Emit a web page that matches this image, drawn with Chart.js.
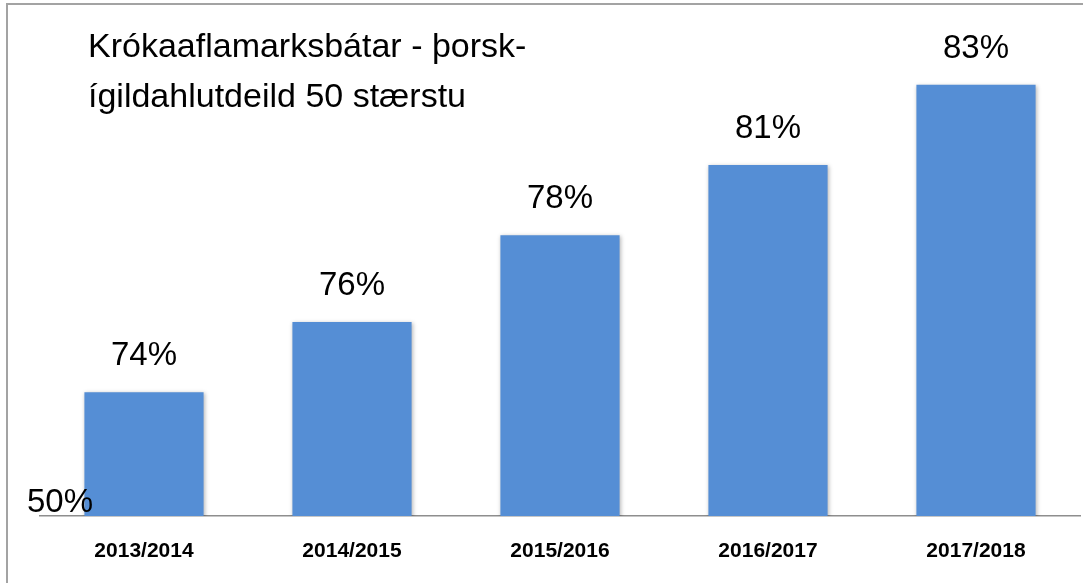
<!DOCTYPE html>
<html>
<head>
<meta charset="utf-8">
<script src="https://cdn.jsdelivr.net/npm/chart.js@4"></script>
<style>
  html, body { margin: 0; padding: 0; background: #fff; }
  #wrap { position: relative; width: 1083px; height: 583px; overflow: hidden; }
  #frame { position: absolute; left: 6px; top: 3px; right: -10px; bottom: -10px;
           border-left: 2px solid #a3a3a3; border-top: 2px solid #a3a3a3; pointer-events: none; }
  canvas { position: absolute; left: 0; top: 0; }
</style>
</head>
<body>
<div id="wrap">
  <canvas id="c" width="1083" height="583"></canvas>
  <div id="frame"></div>
</div>
<script>
// ---- data ----
const titleLines = ['Krókaaflamarksbátar - þorsk-', 'ígildahlutdeild 50 stærstu'];
const categories = ['2013/2014', '2014/2015', '2015/2016', '2016/2017', '2017/2018'];
const shareValues = [73.7, 75.8, 78.4, 80.5, 82.9];
const yTickLabels = ['50%'];
const yAxisMin = 70;
const yAxisMax = 84;

const FONT = '"Liberation Sans", Arial, Helvetica, sans-serif';

const shadowPlugin = {
  id: 'barShadow',
  beforeDatasetsDraw(chart) {
    const ctx = chart.ctx;
    ctx.save();
    ctx.shadowColor = 'rgba(0,0,0,0.28)';
    ctx.shadowBlur = 4;
    ctx.shadowOffsetX = 1;
    ctx.shadowOffsetY = 1;
  },
  afterDatasetsDraw(chart) {
    chart.ctx.restore();
  }
};

const labelPlugin = {
  id: 'valueLabels',
  afterDatasetsDraw(chart) {
    const ctx = chart.ctx;
    const meta = chart.getDatasetMeta(0);
    ctx.save();
    ctx.font = '33px ' + FONT;
    ctx.fillStyle = '#000';
    ctx.textAlign = 'center';
    ctx.textBaseline = 'middle';
    meta.data.forEach((bar, i) => {
      const v = chart.data.datasets[0].data[i];
      ctx.fillText(Math.round(v) + '%', bar.x, bar.y - 36);
    });
    // y-axis tick label at the axis minimum
    const yScale = chart.scales.y;
    ctx.textAlign = 'left';
    ctx.fillText(yTickLabels[0], chart.chartArea.left - 13, yScale.getPixelForValue(yAxisMin) - 13);
    ctx.restore();
  }
};

const titlePlugin = {
  id: 'cornerTitle',
  afterDraw(chart) {
    const ctx = chart.ctx;
    ctx.save();
    ctx.font = '34px ' + FONT;
    ctx.fillStyle = '#000';
    ctx.textAlign = 'left';
    ctx.textBaseline = 'middle';
    titleLines.forEach((t, i) => ctx.fillText(t, 88, 48 + i * 50));
    ctx.restore();
  }
};

new Chart(document.getElementById('c'), {
  type: 'bar',
  data: {
    labels: categories,
    datasets: [{
      data: shareValues,
      backgroundColor: '#558ed5',
      borderWidth: 0,
      categoryPercentage: 1,
      barPercentage: 0.573
    }]
  },
  options: {
    responsive: false,
    animation: false,
    devicePixelRatio: 1,
    layout: { padding: { left: 40, right: 3, top: 48, bottom: 0 } },
    plugins: { legend: { display: false }, tooltip: { enabled: false }, title: { display: false } },
    scales: {
      x: {
        grid: { display: false, drawTicks: false },
        border: { display: true, color: '#8e8e8e', width: 1.5 },
        ticks: { color: '#000', font: { family: FONT, size: 21, weight: 'bold' }, padding: 23, maxRotation: 0 },
        afterFit(scale) { scale.height = 67; }
      },
      y: {
        display: false,
        min: yAxisMin,
        max: yAxisMax
      }
    }
  },
  plugins: [shadowPlugin, labelPlugin, titlePlugin]
});
</script>
</body>
</html>
